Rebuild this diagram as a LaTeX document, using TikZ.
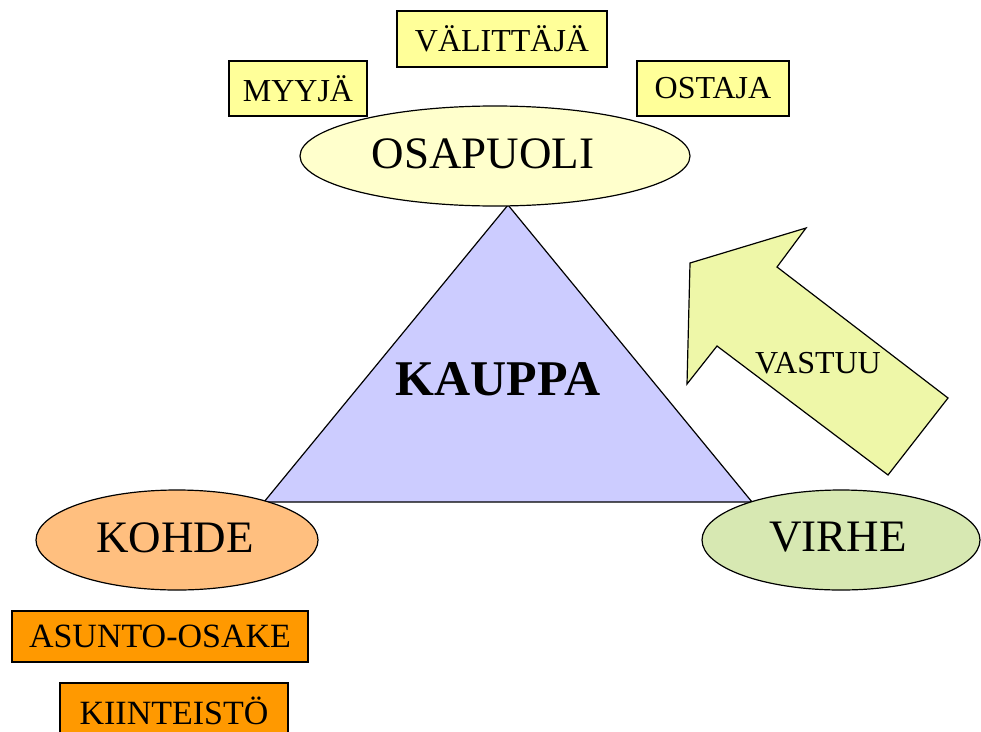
\documentclass[tikz,border=0pt]{standalone}
\usepackage{fontspec}
\setmainfont{Liberation Serif}
\usetikzlibrary{shapes.geometric}
\definecolor{boxyellow}{HTML}{FFFF99}
\definecolor{palyellow}{HTML}{FFFFCC}
\definecolor{trifill}{HTML}{CCCCFF}
\definecolor{arrowfill}{HTML}{EEF7A8}
\definecolor{kohdefill}{HTML}{FFBF7F}
\definecolor{virhefill}{HTML}{D7E8B2}
\definecolor{orangebox}{HTML}{FF9900}
\tikzset{
  smallbox/.style={draw=black, line width=1.1pt, fill=boxyellow, inner sep=0pt,
    font=\fontsize{32}{36}\selectfont},
  orangebx/.style={draw=black, line width=1.1pt, fill=orangebox, inner sep=0pt,
    font=\fontsize{34}{38}\selectfont},
  bigell/.style={ellipse, draw=black, line width=1.2pt, inner sep=0pt},
  bigtext/.style={inner sep=0pt, font=\fontsize{45}{50}\selectfont},
}
\begin{document}
\begin{tikzpicture}[x=1pt,y=-1pt]
\useasboundingbox (0,0) rectangle (981,731);
% triangle
\coordinate (apex) at (508,205);
\coordinate (bl) at (264,502);
\coordinate (br) at (752,502);
\draw[line width=1.2pt, fill=trifill, line join=miter] (apex) -- (bl) -- (br) -- cycle;
\node[inner sep=0pt, font=\fontsize{50}{56}\selectfont\bfseries] (kauppa) at (498,379) {KAUPPA};
% arrow
\coordinate (a1) at (690,263);
\coordinate (a2) at (806,228);
\coordinate (a3) at (777,267);
\coordinate (a4) at (948,398);
\coordinate (a5) at (888,475);
\coordinate (a6) at (717,346);
\coordinate (a7) at (687,384);
\draw[line width=1.2pt, fill=arrowfill, line join=miter] (a1) -- (a2) -- (a3) -- (a4) -- (a5) -- (a6) -- (a7) -- cycle;
\node[inner sep=0pt, font=\fontsize{32}{36}\selectfont] (vastuu) at (818,363) {VASTUU};
% ellipses
\node[bigell, fill=palyellow, minimum width=390, minimum height=100] (osapuoli) at (495,156) {};
\node[bigtext] (osapuolit) at (483,154) {OSAPUOLI};
\node[bigell, fill=kohdefill, minimum width=282, minimum height=100] (kohde) at (177,540) {};
\node[bigtext] (kohdet) at (175,538) {KOHDE};
\node[bigell, fill=virhefill, minimum width=278, minimum height=100] (virhe) at (841,540) {};
\node[bigtext] (virhet) at (838,537) {VIRHE};
% small boxes
\node[smallbox, minimum width=138, minimum height=55] (myyja) at (298,88.5) {MYYJÄ};
\node[smallbox, minimum width=210, minimum height=56] (valittaja) at (502,39) {VÄLITTÄJÄ};
\node[smallbox, minimum width=152, minimum height=55] (ostaja) at (713,88.5) {OSTAJA};
\node[orangebx, minimum width=296, minimum height=51] (asunto) at (160,636.5) {ASUNTO-OSAKE};
\node[orangebx, minimum width=228, minimum height=56] (kiint) at (174,711) {KIINTEISTÖ};
\end{tikzpicture}
\end{document}
